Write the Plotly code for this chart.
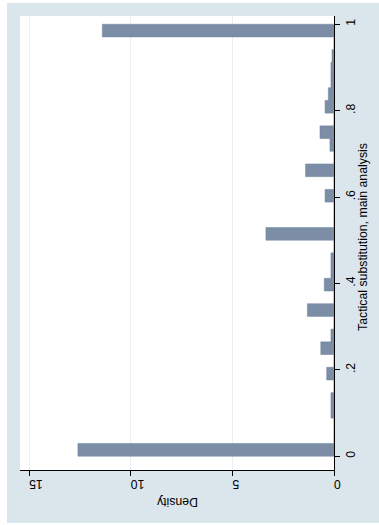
import numpy as np
import plotly.graph_objects as go

# ---- data (Stata-style histogram, 34 bins on [0, 1]) ----
n_bins = 34
densities = [12.6, 0.0, 0.0, 0.15, 0.15, 0.0, 0.36, 0.0, 0.65, 0.15,
             0.0, 1.31, 0.0, 0.48, 0.15, 0.15, 0.0, 3.35, 0.0, 0.0,
             0.44, 0.0, 1.4, 0.0, 0.2, 0.69, 0.0, 0.44, 0.28, 0.15,
             0.15, 0.1, 0.0, 11.4]
value_ticks = [0, 0.2, 0.4, 0.6, 0.8, 1.0]
value_tick_labels = ["0", ".2", ".4", ".6", ".8", "1"]
density_ticks = [0, 5, 10, 15]
density_tick_labels = ["0", "5", "10", "15"]
x_title = "Tactical substitution, main analysis"
y_title = "Density"

bin_w = 1.0 / n_bins
bin_centers = [(k + 0.5) * bin_w for k in range(n_bins)]

BAR = "rgb(123,142,166)"
BG = "rgb(218,229,236)"
GRID = "rgb(232,238,241)"
FONT = "Liberation Sans, Arial, Helvetica, sans-serif"
FS = 12.3

fig = go.Figure()
fig.add_trace(go.Bar(
    y=bin_centers, x=densities, orientation="h", width=bin_w,
    marker=dict(color=BAR, line=dict(color="rgb(112,131,156)", width=0.5)),
    hoverinfo="skip",
))

W, H = 379, 525
L, R, T, B = 20, 45, 16, 55
pw, ph = W - L - R, H - T - B

def px_x(x):
    return (x - L) / pw

def px_y(y):
    return (H - B - y) / ph

fig.update_layout(
    width=W, height=H, autosize=False,
    margin=dict(l=L, r=R, t=T, b=B, pad=0),
    paper_bgcolor=BG, plot_bgcolor="white",
    showlegend=False,
    font=dict(family=FONT, size=FS, color="black"),
    xaxis=dict(
        range=[15.45, 0], tickvals=density_ticks, ticktext=density_tick_labels,
        tickangle=180, ticks="outside", ticklen=5, tickcolor="black",
        ticklabelstandoff=2,
        showline=True, linecolor="black", linewidth=1,
        showgrid=True, gridcolor=GRID, gridwidth=1, zeroline=False,
        tickfont=dict(family=FONT, size=FS, color="black"),
    ),
    yaxis=dict(
        range=[-0.032, 1.019], side="right",
        tickvals=value_ticks, ticktext=value_tick_labels,
        tickangle=-90, ticks="outside", ticklen=5, tickcolor="black",
        showline=True, linecolor="black", linewidth=1,
        showgrid=False, zeroline=False,
        tickfont=dict(family=FONT, size=FS, color="black"),
    ),
    annotations=[
        dict(text=y_title, xref="paper", yref="paper", x=0.5, y=px_y(502),
             textangle=180, showarrow=False, xanchor="center", yanchor="middle",
             font=dict(family=FONT, size=FS, color="black")),
        dict(text=x_title, xref="paper", yref="paper", x=px_x(363), y=px_y(237),
             textangle=-90, showarrow=False, xanchor="center", yanchor="middle",
             font=dict(family=FONT, size=FS, color="black")),
    ],
    shapes=[
        dict(type="rect", xref="paper", yref="paper", layer="below",
             x0=px_x(-2), x1=px_x(7), y0=px_y(H + 2), y1=px_y(-2),
             fillcolor="white", line=dict(width=0)),
        dict(type="rect", xref="paper", yref="paper", layer="below",
             x0=px_x(-2), x1=px_x(W + 2), y0=px_y(3), y1=px_y(-2),
             fillcolor="white", line=dict(width=0)),
        dict(type="rect", xref="paper", yref="paper", layer="below",
             x0=px_x(-2), x1=px_x(W + 2), y0=px_y(H + 2), y1=px_y(523),
             fillcolor="white", line=dict(width=0)),
    ],
)

fig.write_html("out.html")
